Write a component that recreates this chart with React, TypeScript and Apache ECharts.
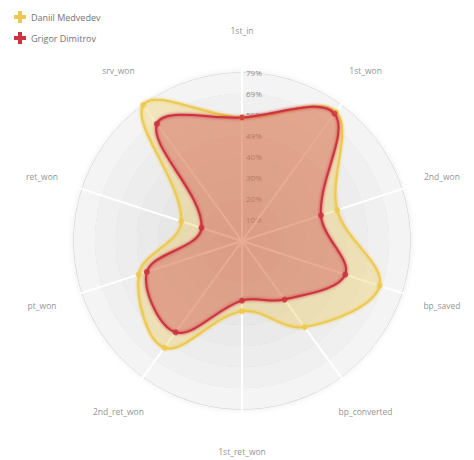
import { useEffect, useRef } from 'react';
import * as echarts from 'echarts';

// ─── Data ─────────────────────────────────────────────────────────────────────

const categories = [
  '1st_in',
  '1st_won',
  '2nd_won',
  'bp_saved',
  'bp_converted',
  '1st_ret_won',
  '2nd_ret_won',
  'pt_won',
  'ret_won',
  'srv_won',
];

const medvedev = [58, 75, 47, 68, 50, 33, 62, 51, 30, 79];
const dimitrov = [58, 74, 39, 51, 34, 28, 53, 47, 20, 68];

const seriesNames = ['Daniil Medvedev', 'Grigor Dimitrov'];

// one label per radius tick, centre first (blank) and the outer guide last (blank)
const tickLabels = ['', '10%', '20%', '30%', '40%', '49%', '59%', '69%', '79%', ''];

const MAX_VALUE = 79;
const LEVELS = 8;
const STEP = 360 / categories.length; // degrees between two spokes

// ─── Styling ──────────────────────────────────────────────────────────────────

const YELLOW = '#EDC951';
const RED = '#CC333F';
const FONT = 'Open Sans';
const CROSS = 'path://M1,0H2V1H3V2H2V3H1V2H0V1H1Z';

// stacked translucent grey circles: darker towards the centre
const bandColors = ['#dedede', '#e1e1e1', '#e4e4e4', '#e7e7e7', '#eaeaea', '#ededed', '#f0f0f0', '#f4f4f4', 'rgba(0,0,0,0)'];
const ringColors = ['#cdcdcd', '#cdcdcd', '#cdcdcd', '#cdcdcd', '#cdcdcd', '#cdcdcd', '#cdcdcd', '#cdcdcd', '#cdcdcd', 'rgba(0,0,0,0)'];

const toPolar = (values: number[]) => values.map((v, i) => [v, i * STEP]);

// closed, smoothed blob (area + glowing outline) drawn once per player
function blobSeries(name: string, values: number[], color: string) {
  return {
    name,
    type: 'custom',
    coordinateSystem: 'polar',
    color,
    z: 3,
    silent: true,
    data: toPolar(values),
    renderItem: (params: any, api: any) => {
      if (params.dataIndex !== 0) return null;
      const points = toPolar(values).map((p) => api.coord(p));
      return {
        type: 'group',
        children: [
          {
            type: 'polygon',
            shape: { points, smooth: 0.36 },
            style: { fill: color, opacity: 0.35 },
          },
          {
            type: 'polygon',
            shape: { points, smooth: 0.36 },
            style: {
              fill: 'none',
              stroke: color,
              lineWidth: 2,
              shadowBlur: 3,
              shadowColor: color,
            },
          },
        ],
      };
    },
  };
}

function dotSeries(name: string, values: number[], color: string) {
  return {
    name,
    type: 'scatter',
    coordinateSystem: 'polar',
    clip: false,
    silent: true,
    z: 3,
    symbol: 'circle',
    symbolSize: 6,
    itemStyle: { color, opacity: 0.85 },
    data: toPolar(values),
  };
}

function buildOption(): echarts.EChartsOption {
  return {
    animation: false,
    legend: {
      data: seriesNames,
      orient: 'vertical',
      left: 9,
      top: 6,
      itemWidth: 12,
      itemHeight: 12,
      itemGap: 9,
      icon: CROSS,
      textStyle: { fontFamily: FONT, fontSize: 9, color: '#737373' },
    },
    polar: { center: [242, 241], radius: 185 },
    angleAxis: {
      type: 'value',
      min: 0,
      max: 360,
      interval: STEP,
      startAngle: 90,
      clockwise: true,
      z: 1,
      axisLine: { show: false },
      axisTick: { show: false },
      axisLabel: { show: false },
      splitLine: { show: true, lineStyle: { color: '#ffffff', width: 2 } },
    },
    radiusAxis: {
      type: 'value',
      min: 0,
      max: MAX_VALUE * 1.1,
      interval: MAX_VALUE / LEVELS,
      z: 0,
      axisLine: { show: false },
      axisTick: { show: false },
      axisLabel: {
        show: true,
        formatter: (_v: number, i: number) => tickLabels[i] ?? '',
        align: 'left',
        margin: -4,
        fontFamily: FONT,
        fontSize: 8,
        color: '#8a8a8a',
      },
      splitLine: {
        show: true,
        lineStyle: { color: ringColors, width: 1, shadowBlur: 5, shadowColor: '#c4c4c4' },
      },
      splitArea: { show: true, areaStyle: { color: bandColors } },
    },
    series: [
      blobSeries(seriesNames[0], medvedev, YELLOW),
      dotSeries(seriesNames[0], medvedev, YELLOW),
      blobSeries(seriesNames[1], dimitrov, RED),
      dotSeries(seriesNames[1], dimitrov, RED),
      {
        name: 'axis names',
        type: 'scatter',
        coordinateSystem: 'polar',
        clip: false,
        silent: true,
        symbolSize: 1,
        itemStyle: { color: 'rgba(0,0,0,0)' },
        data: categories.map((c, i) => ({ name: c, value: [MAX_VALUE * 1.25, i * STEP] })),
        label: {
          show: true,
          position: 'inside',
          formatter: '{b}',
          fontFamily: FONT,
          fontSize: 8.5,
          color: '#737373',
        },
      },
    ],
  } as echarts.EChartsOption;
}

export default function App() {
  const ref = useRef<HTMLDivElement>(null);

  useEffect(() => {
    if (!ref.current) return;
    const chart = echarts.init(ref.current, null, { renderer: 'svg' });
    chart.setOption(buildOption());
    return () => chart.dispose();
  }, []);

  return (
    <div
      ref={ref}
      style={{ position: 'fixed', left: 0, top: 0, width: 474, height: 460, background: '#ffffff' }}
    />
  );
}
